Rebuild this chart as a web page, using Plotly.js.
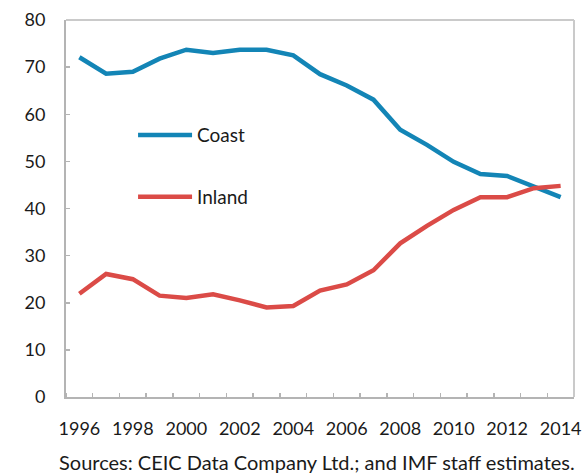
<!DOCTYPE html>
<html>
<head>
<meta charset="utf-8">
<script src="https://cdn.plot.ly/plotly-3.0.1.min.js"></script>
<style>html,body{margin:0;padding:0;background:#fff;}#chart{width:582px;height:474px;}</style>
</head>
<body>
<div id="chart"></div>
<script>
const years = [1996,1997,1998,1999,2000,2001,2002,2003,2004,2005,2006,2007,2008,2009,2010,2011,2012,2013,2014];
const coast = [72.1,68.6,69.0,71.8,73.7,73.0,73.7,73.7,72.5,68.5,66.1,63.1,56.7,53.5,49.9,47.3,46.9,44.6,42.4];
const inland = [21.9,26.1,25.0,21.5,21.0,21.8,20.5,19.0,19.3,22.6,23.9,26.9,32.6,36.3,39.7,42.4,42.4,44.3,44.8];
const xTickLabels = ['1996','1998','2000','2002','2004','2006','2008','2010','2012','2014'];
const yTicks = [0,10,20,30,40,50,60,70,80];
const sourceText = 'Sources: CEIC Data Company Ltd.; and IMF staff estimates.';

const FONT = 'Lato, "Open Sans", sans-serif';
const axisGrey = '#b4b4b4';

const traces = [
  {x: years, y: coast, name: 'Coast', legendgroup: 'coast', type: 'scatter', mode: 'lines',
   line: {color: '#1385b6', width: 4.5}},
  {x: years, y: inland, name: 'Inland', legendgroup: 'inland', type: 'scatter', mode: 'lines',
   line: {color: '#db4b47', width: 4.5}}
];

const layout = {
  width: 582, height: 474,
  margin: {l: 66, r: 8, t: 20, b: 77},
  paper_bgcolor: '#fff', plot_bgcolor: '#fff',
  font: {family: FONT, size: 18, color: '#1a1a1a'},
  showlegend: true,
  legend: {x: 0.132, y: 0.745, xanchor: 'left', yanchor: 'top',
           bgcolor: 'rgba(0,0,0,0)', tracegroupgap: 34, itemwidth: 54,
           font: {family: FONT, size: 19, color: '#1a1a1a'}},
  xaxis: {
    range: [1995.5, 2014.5], fixedrange: true,
    tickmode: 'array', tickvals: xTickLabels.map(Number), ticktext: xTickLabels,
    ticks: '', showgrid: false, zeroline: false,
    showline: true, linecolor: axisGrey, linewidth: 2,
    ticklabelstandoff: 14,
    minor: {tickmode: 'linear', tick0: 1995.5, dtick: 1, ticks: 'inside', ticklen: 4, tickwidth: 1.5, tickcolor: axisGrey, showgrid: false},
    tickfont: {family: FONT, size: 18, color: '#1a1a1a'}
  },
  yaxis: {
    range: [0, 80], fixedrange: true,
    tickmode: 'array', tickvals: yTicks,
    ticks: 'inside', ticklen: 4, tickwidth: 1.5, tickcolor: axisGrey,
    showgrid: false, zeroline: false,
    showline: true, linecolor: axisGrey, linewidth: 2,
    ticklabelstandoff: 15,
    tickfont: {family: FONT, size: 18, color: '#1a1a1a'}
  },
  shapes: [
    {type: 'line', xref: 'paper', yref: 'paper', x0: 0, x1: 1, y0: 1, y1: 1, line: {color: '#cacaca', width: 2}},
    {type: 'line', xref: 'paper', yref: 'paper', x0: 1, x1: 1, y0: 0, y1: 1, line: {color: '#cacaca', width: 2}}
  ],
  annotations: [
    {text: sourceText, xref: 'paper', yref: 'paper', x: 1.005, y: -0.172, xanchor: 'right', yanchor: 'middle',
     showarrow: false, font: {family: FONT, size: 20, color: '#1a1a1a'}}
  ]
};

Plotly.newPlot('chart', traces, layout, {displayModeBar: false, staticPlot: true});
</script>
</body>
</html>
